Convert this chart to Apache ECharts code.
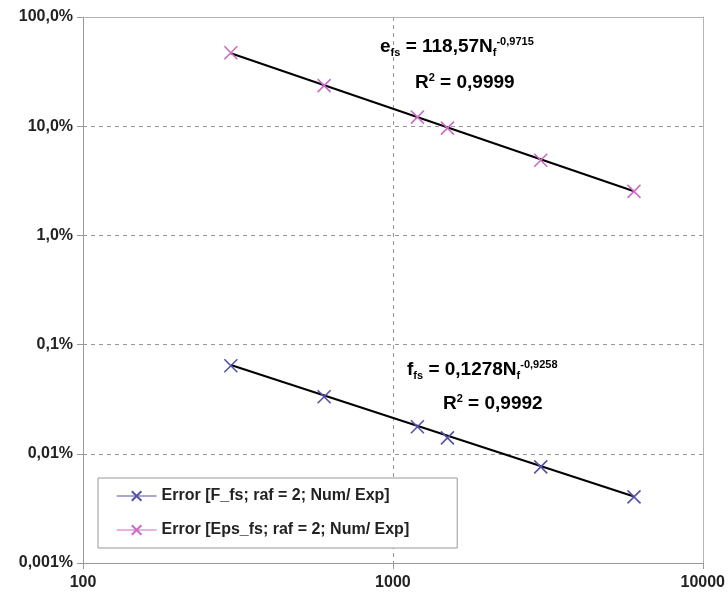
<!DOCTYPE html>
<html>
<head>
<meta charset="utf-8">
<script src="https://cdn.jsdelivr.net/npm/echarts@6/dist/echarts.min.js"></script>
<style>
html,body{margin:0;padding:0;background:#fff;}
#c{width:728px;height:602px;}
</style>
</head>
<body>
<div id="c"></div>
<script>
// ---- data ----
const cycles = [300, 600, 1200, 1500, 3000, 6000];
const errF = [0.00064, 0.000333, 0.000177, 0.00014, 0.000076, 0.0000403];
const errEps = [0.47, 0.235, 0.121, 0.096, 0.0488, 0.0253];
const trendX = [300, 6000];
const trendF = [0.00065, 0.0000406];
const trendEps = [0.465, 0.0254];
const yTickLabels = ['0,001%', '0,01%', '0,1%', '1,0%', '10,0%', '100,0%'];
const xTickLabels = ['100', '1000', '10000'];
const seriesNames = ['Error [F_fs; raf = 2; Num/ Exp]', 'Error [Eps_fs; raf = 2; Num/ Exp]'];

const FONT = '"Liberation Sans", Arial, sans-serif';
const cross = 'path://M0,0L10,10M10,0L0,10';
const BLUE = '#5452aa';
const PINK = '#cc6cc6';

function pairs(xs, ys){ return xs.map((x,i)=>[x, ys[i]]); }

const chart = echarts.init(document.getElementById('c'));
const sub = {fontFamily: FONT, fontWeight: 'bold', fontSize: 11, color: '#222', verticalAlign: 'bottom', lineHeight: 22, padding:[8,0,0,0]};
const sup = {fontFamily: FONT, fontWeight: 'bold', fontSize: 11, color: '#222', verticalAlign: 'top', lineHeight: 22, padding:[0,0,12,0]};
const big = {fontFamily: FONT, fontWeight: 'bold', fontSize: 19, color: '#222', lineHeight: 22};

const frameAxis = {
  type: 'log', logBase: 10,
  axisLine: {show: true, onZero: false, lineStyle: {color: '#b4b4b4', width: 1}},
  axisTick: {show: false}, axisLabel: {show: false}, splitLine: {show: false}
};

chart.setOption({
  animation: false,
  backgroundColor: '#fff',
  grid: {left: 83, top: 17, right: 24, bottom: 39, show: false},
  xAxis: [{
    type: 'log', logBase: 10, min: 100, max: 10000,
    axisLine: {show: true, onZero: false, lineStyle: {color: '#999', width: 1}},
    axisTick: {show: true, length: 6, lineStyle: {color: '#999'}},
    splitLine: {show: true, lineStyle: {color: '#999', type: [4, 4], width: 1}},
    axisLabel: {
      margin: 12, color: '#222', fontFamily: FONT, fontWeight: 'bold', fontSize: 16,
      formatter: function(v){ return xTickLabels[Math.round(Math.log10(v)) - 2]; }
    }
  }, Object.assign({}, frameAxis, {position: 'top', min: 100, max: 10000})],
  yAxis: [{
    type: 'log', logBase: 10, min: 0.00001, max: 1,
    axisLine: {show: true, onZero: false, lineStyle: {color: '#999', width: 1}},
    axisTick: {show: true, length: 6, lineStyle: {color: '#999'}},
    splitLine: {show: true, lineStyle: {color: '#999', type: [4, 4], width: 1}},
    axisLabel: {
      margin: 10, color: '#222', fontFamily: FONT, fontWeight: 'bold', fontSize: 16,
      formatter: function(v){ return yTickLabels[Math.round(Math.log10(v)) + 5]; }
    }
  }, Object.assign({}, frameAxis, {position: 'right', min: 0.00001, max: 1})],
  legend: {
    show: true, left: 98, top: 478, orient: 'vertical',
    data: seriesNames,
    backgroundColor: '#fff', borderColor: '#999', borderWidth: 1,
    padding: [10, 48, 10, 18], itemGap: 18, itemWidth: 40, itemHeight: 12,
    lineStyle: {opacity: 1, width: 1.2},
    textStyle: {fontFamily: FONT, fontWeight: 'bold', fontSize: 16, color: '#222'}
  },
  series: [
    {
      name: 'trendF', type: 'line', data: pairs(trendX, trendF), showSymbol: false, symbol: 'none',
      lineStyle: {color: '#000', width: 2}, z: 3, silent: true
    },
    {
      name: 'trendEps', type: 'line', data: pairs(trendX, trendEps), showSymbol: false, symbol: 'none',
      lineStyle: {color: '#000', width: 2}, z: 3, silent: true
    },
    {
      name: seriesNames[0], type: 'line', data: pairs(cycles, errF),
      symbol: cross, symbolSize: 13,
      itemStyle: {color: 'rgba(0,0,0,0)', borderColor: BLUE, borderWidth: 1.6},
      lineStyle: {color: BLUE, width: 1, opacity: 0}, z: 4
    },
    {
      name: seriesNames[1], type: 'line', data: pairs(cycles, errEps),
      symbol: cross, symbolSize: 13,
      itemStyle: {color: 'rgba(0,0,0,0)', borderColor: PINK, borderWidth: 1.6},
      lineStyle: {color: PINK, width: 1, opacity: 0}, z: 4
    }
  ],
  graphic: [
    {type: 'text', left: 380, top: 36, style: {
      text: '{b|e}{s|fs}{b| = 118,57N}{s|f}{p|-0,9715}',
      rich: {b: big, s: sub, p: sup}
    }},
    {type: 'text', left: 415, top: 72, style: {
      text: '{b|R}{p|2}{b| = 0,9999}',
      rich: {b: big, p: sup}
    }},
    {type: 'text', left: 407, top: 359, style: {
      text: '{b|f}{s|fs}{b| = 0,1278N}{s|f}{p|-0,9258}',
      rich: {b: big, s: sub, p: sup}
    }},
    {type: 'text', left: 443, top: 393, style: {
      text: '{b|R}{p|2}{b| = 0,9992}',
      rich: {b: big, p: sup}
    }}
  ]
});
</script>
</body>
</html>
